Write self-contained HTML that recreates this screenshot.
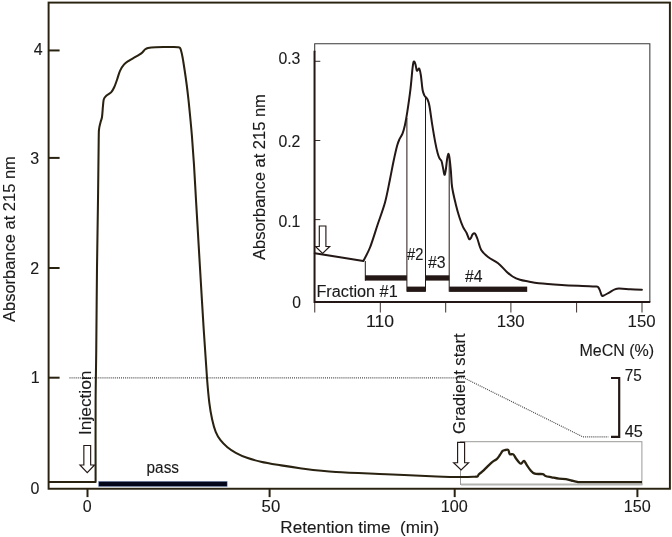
<!DOCTYPE html>
<html lang="en">
<head>
<meta charset="utf-8">
<title>Chromatogram</title>
<style>
html,body{margin:0;padding:0;background:#fff;}
body{width:672px;height:537px;overflow:hidden;}
svg{display:block;}
</style>
</head>
<body>
<svg width="672" height="537" viewBox="0 0 672 537" font-family='"Liberation Sans", sans-serif' fill="#1a1a1a">
<rect width="672" height="537" fill="#fff"/>
<rect x="460.5" y="441.7" width="181.4" height="42.8" fill="none" stroke="#9a9a98" stroke-width="1"/>
<line x1="461" y1="484.5" x2="642.4" y2="484.5" stroke="#b4b4b0" stroke-width="2.2"/>
<path d="M69.5,377.9 L464,377.9 L582.75,436.8 L608.3,436.8" fill="none" stroke="#484848" stroke-width="1.2" stroke-dasharray="1 1.06"/>
<rect x="48.6" y="2.6" width="621.3" height="486.15" fill="none" stroke="#2a2211" stroke-width="1.95"/>
<line x1="48.6" y1="50.45" x2="59.6" y2="50.45" stroke="#2a2211" stroke-width="2.0"/>
<line x1="48.6" y1="157.90" x2="59.6" y2="157.90" stroke="#2a2211" stroke-width="2.0"/>
<line x1="48.6" y1="268.00" x2="59.6" y2="268.00" stroke="#2a2211" stroke-width="2.0"/>
<line x1="48.6" y1="377.70" x2="59.6" y2="377.70" stroke="#2a2211" stroke-width="2.0"/>
<line x1="87.50" y1="488.75" x2="87.50" y2="497.1" stroke="#2a2211" stroke-width="2.0"/>
<line x1="269.60" y1="488.75" x2="269.60" y2="497.1" stroke="#2a2211" stroke-width="2.0"/>
<line x1="454.70" y1="488.75" x2="454.70" y2="497.1" stroke="#2a2211" stroke-width="2.0"/>
<line x1="637.40" y1="488.75" x2="637.40" y2="497.1" stroke="#2a2211" stroke-width="2.0"/>
<path d="M48.60,481.95 L95.60,481.95" fill="none" stroke="#2a2211" stroke-width="2.05" stroke-linejoin="round"/>
<path d="M95.60,481.95 C95.60,468.62 95.49,423.99 95.60,402.00 C95.71,380.01 96.02,372.33 96.25,350.00 C96.48,327.67 96.71,293.00 97.00,268.00 C97.29,243.00 97.72,221.33 98.00,200.00 C98.28,178.67 98.52,151.83 98.70,140.00 C98.88,128.17 98.78,132.00 99.10,129.00 C99.42,126.00 100.12,124.00 100.60,122.00 C101.08,120.00 101.60,119.72 102.00,117.00 C102.40,114.28 102.68,108.70 103.00,105.70 C103.32,102.70 103.32,100.68 103.90,99.00 C104.48,97.32 105.27,96.75 106.50,95.60 C107.73,94.45 110.02,93.48 111.30,92.10 C112.58,90.72 113.23,89.40 114.20,87.30 C115.17,85.20 116.13,82.25 117.10,79.50 C118.07,76.75 118.87,73.28 120.00,70.80 C121.13,68.32 122.45,66.27 123.90,64.60 C125.35,62.93 126.77,62.08 128.70,60.80 C130.63,59.52 133.40,58.13 135.50,56.90 C137.60,55.67 139.68,54.67 141.30,53.40 C142.92,52.13 144.07,50.20 145.20,49.30 C146.33,48.40 146.33,48.35 148.10,48.00 C149.87,47.65 152.98,47.37 155.80,47.20 C158.62,47.03 161.97,47.03 165.00,47.00 C168.03,46.97 171.83,46.97 174.00,47.00 C176.17,47.03 177.03,47.07 178.00,47.20 C178.97,47.33 179.32,47.33 179.80,47.80 C180.28,48.27 180.43,48.38 180.90,50.00 C181.37,51.62 181.98,54.17 182.60,57.50 C183.22,60.83 183.93,65.58 184.60,70.00 C185.27,74.42 185.95,79.00 186.60,84.00 C187.25,89.00 187.90,94.50 188.50,100.00 C189.10,105.50 189.62,110.83 190.20,117.00 C190.78,123.17 191.37,129.00 192.00,137.00 C192.63,145.00 193.33,154.50 194.00,165.00 C194.67,175.50 195.33,188.50 196.00,200.00 C196.67,211.50 197.33,222.67 198.00,234.00 C198.67,245.33 199.04,252.00 200.00,268.00 C200.96,284.00 202.58,311.67 203.75,330.00 C204.92,348.33 206.07,365.90 207.00,378.00 C207.93,390.10 208.45,395.72 209.30,402.60 C210.15,409.48 211.03,414.42 212.10,419.30 C213.17,424.18 214.30,428.42 215.70,431.90 C217.10,435.38 218.55,437.65 220.50,440.20 C222.45,442.75 224.85,445.10 227.40,447.20 C229.95,449.30 232.53,451.03 235.80,452.80 C239.07,454.57 242.82,456.32 247.00,457.80 C251.18,459.28 255.78,460.53 260.90,461.70 C266.02,462.87 271.18,463.72 277.70,464.80 C284.22,465.88 290.28,467.00 300.00,468.20 C309.72,469.40 321.62,471.00 336.00,472.00 C350.38,473.00 369.53,473.47 386.30,474.20 C403.07,474.93 424.02,475.93 436.60,476.40 C449.18,476.87 455.30,476.95 461.80,477.00 C468.30,477.05 473.30,476.75 475.60,476.70" fill="none" stroke="#2a2211" stroke-width="2.05" stroke-linejoin="round" stroke-linecap="round"/>
<path d="M475.60,476.70 C475.93,476.65 477.05,476.80 477.60,476.40 C478.15,476.00 478.30,474.95 478.90,474.30 C479.50,473.65 480.37,473.20 481.20,472.50 C482.03,471.80 482.57,471.38 483.90,470.10 C485.23,468.82 487.72,466.22 489.20,464.80 C490.68,463.38 491.55,462.55 492.80,461.60 C494.05,460.65 495.52,460.20 496.70,459.10 C497.88,458.00 498.92,456.37 499.90,455.00 C500.88,453.63 501.70,451.73 502.60,450.90 C503.50,450.07 504.35,450.15 505.30,450.00 C506.25,449.85 507.56,449.32 508.30,450.00 C509.04,450.68 508.92,453.37 509.75,454.10 C510.58,454.83 512.26,453.67 513.30,454.40 C514.34,455.13 514.95,457.07 516.00,458.50 C517.05,459.93 518.70,462.17 519.60,463.00 C520.50,463.83 520.67,463.85 521.40,463.50 C522.13,463.15 523.12,460.68 524.00,460.90 C524.88,461.12 525.65,463.27 526.70,464.80 C527.75,466.33 528.96,468.62 530.30,470.10 C531.64,471.58 532.67,473.03 534.75,473.70 C536.83,474.37 541.01,473.72 542.80,474.10 C544.59,474.48 544.02,475.47 545.50,476.00 C546.98,476.53 549.47,476.85 551.70,477.30 C553.93,477.75 556.52,478.40 558.90,478.70 C561.28,479.00 563.63,478.73 566.00,479.10 C568.37,479.47 571.02,480.38 573.10,480.90 C575.18,481.42 577.60,481.98 578.50,482.20 L642,482.2" fill="none" stroke="#2a2211" stroke-width="2.3" stroke-linejoin="round" stroke-linecap="butt"/>
<rect x="98.6" y="481.4" width="128.6" height="5.1" fill="#04061a" stroke="#6f8fc8" stroke-opacity="0.55" stroke-width="0.7"/>
<path d="M83.85,445.50 L90.65,445.50 L90.65,465.00 L94.55,465.00 L87.25,472.70 L79.95,465.00 L83.85,465.00Z" fill="#fff" stroke="#231815" stroke-width="1.15" stroke-linejoin="miter"/>
<path d="M457.60,442.30 L464.60,442.30 L464.60,462.70 L468.60,462.70 L461.10,470.00 L453.60,462.70 L457.60,462.70Z" fill="#fff" stroke="#231815" stroke-width="1.15" stroke-linejoin="miter"/>
<path d="M314.7,52 L314.7,43.7 L649.85,43.7 L649.85,302" fill="none" stroke="#383838" stroke-width="1.05"/>
<path d="M314.55,50.7 L314.55,302 L650.3,302" fill="none" stroke="#231815" stroke-width="2.0"/>
<line x1="314.6" y1="61.30" x2="320.3" y2="61.30" stroke="#231815" stroke-width="0.9"/>
<line x1="314.6" y1="140.50" x2="320.3" y2="140.50" stroke="#231815" stroke-width="0.9"/>
<line x1="314.6" y1="219.60" x2="320.3" y2="219.60" stroke="#231815" stroke-width="0.9"/>
<line x1="314.75" y1="302" x2="314.75" y2="312.5" stroke="#231815" stroke-width="0.9"/>
<line x1="380.30" y1="302" x2="380.30" y2="312.5" stroke="#231815" stroke-width="0.9"/>
<line x1="445.70" y1="302" x2="445.70" y2="312.5" stroke="#231815" stroke-width="0.9"/>
<line x1="510.90" y1="302" x2="510.90" y2="312.5" stroke="#231815" stroke-width="0.9"/>
<line x1="576.60" y1="302" x2="576.60" y2="312.5" stroke="#231815" stroke-width="0.9"/>
<line x1="642.00" y1="302" x2="642.00" y2="312.5" stroke="#231815" stroke-width="0.9"/>
<line x1="365.3" y1="261" x2="365.3" y2="280.6" stroke="#231815" stroke-width="1"/>
<line x1="406.9" y1="118" x2="406.9" y2="291.7" stroke="#231815" stroke-width="1"/>
<line x1="425.5" y1="96.5" x2="425.5" y2="291.7" stroke="#231815" stroke-width="1"/>
<line x1="449.2" y1="156" x2="449.2" y2="291.7" stroke="#231815" stroke-width="1"/>
<rect x="365.00" y="275.30" width="41.90" height="5.3" fill="#231815"/>
<rect x="407.00" y="286.60" width="18.30" height="5.3" fill="#231815"/>
<rect x="425.50" y="275.30" width="23.80" height="5.3" fill="#231815"/>
<rect x="449.30" y="286.60" width="77.90" height="5.3" fill="#231815"/>
<path d="M314.75,253.25 L340.00,257.20 L363.30,261.00  C364.42,258.75 367.63,253.50 370.00,247.50 C372.37,241.50 375.00,232.50 377.50,225.00 C380.00,217.50 382.95,209.97 385.00,202.50 C387.05,195.03 388.38,187.03 389.80,180.20 C391.22,173.37 392.28,167.23 393.50,161.50 C394.72,155.77 396.10,149.52 397.10,145.80 C398.10,142.08 398.60,141.23 399.50,139.20 C400.40,137.17 401.60,135.93 402.50,133.60 C403.40,131.27 404.10,128.83 404.90,125.20 C405.70,121.57 406.37,117.87 407.30,111.80 C408.23,105.73 409.65,95.87 410.50,88.80 C411.35,81.73 411.92,73.77 412.40,69.40 C412.88,65.03 413.08,63.90 413.40,62.60 C413.72,61.30 413.95,61.28 414.30,61.60 C414.65,61.92 415.08,63.00 415.50,64.50 C415.92,66.00 416.35,69.78 416.80,70.60 C417.25,71.42 417.77,69.68 418.20,69.40 C418.63,69.12 418.95,67.88 419.40,68.90 C419.85,69.92 420.37,71.98 420.90,75.50 C421.43,79.02 422.00,86.65 422.60,90.00 C423.20,93.35 423.70,94.07 424.50,95.60 C425.30,97.13 426.58,97.50 427.40,99.20 C428.22,100.90 428.58,101.47 429.40,105.80 C430.22,110.13 431.33,119.15 432.30,125.20 C433.27,131.25 434.32,137.47 435.20,142.10 C436.08,146.73 436.88,150.28 437.60,153.00 C438.32,155.72 438.85,157.07 439.50,158.40 C440.15,159.73 440.88,159.27 441.50,161.00 C442.12,162.73 442.72,166.50 443.20,168.80 C443.68,171.10 444.00,174.40 444.40,174.80 C444.80,175.20 445.15,173.82 445.60,171.20 C446.05,168.58 446.65,162.00 447.10,159.10 C447.55,156.20 447.90,154.00 448.30,153.80 C448.70,153.60 449.07,155.00 449.50,157.90 C449.93,160.80 450.47,166.35 450.90,171.20 C451.33,176.05 451.30,181.55 452.10,187.00 C452.90,192.45 454.48,198.87 455.70,203.90 C456.92,208.93 458.18,213.37 459.40,217.20 C460.62,221.03 461.80,224.27 463.00,226.90 C464.20,229.53 465.58,230.98 466.60,233.00 C467.62,235.02 468.37,238.20 469.10,239.00 C469.83,239.80 470.40,238.60 471.00,237.80 C471.60,237.00 472.02,234.88 472.70,234.20 C473.38,233.52 474.30,232.90 475.10,233.70 C475.90,234.50 476.48,236.30 477.50,239.00 C478.52,241.70 479.38,246.87 481.20,249.90 C483.02,252.93 485.58,254.98 488.40,257.20 C491.22,259.42 495.07,260.78 498.10,263.20 C501.13,265.62 504.18,269.48 506.60,271.70 C509.02,273.92 510.37,275.15 512.60,276.50 C514.83,277.85 517.38,278.97 520.00,279.80 C522.62,280.63 525.17,280.92 528.30,281.50 C531.42,282.08 533.18,282.72 538.75,283.30 C544.32,283.88 554.41,284.55 561.70,285.00 C568.99,285.45 576.95,285.75 582.50,286.00 C588.05,286.25 592.40,286.32 595.00,286.50 C597.60,286.68 597.30,286.48 598.10,287.10 C598.90,287.72 599.20,288.82 599.80,290.20 C600.40,291.58 601.12,294.47 601.70,295.40 C602.28,296.33 601.98,296.32 603.30,295.80 C604.62,295.28 607.68,293.37 609.60,292.30 C611.52,291.23 613.23,290.03 614.80,289.40 C616.37,288.77 616.40,288.53 619.00,288.50 C621.60,288.47 626.58,288.98 630.40,289.20 C634.22,289.42 639.98,289.70 641.90,289.80" fill="none" stroke="#231815" stroke-width="2.0" stroke-linejoin="round" stroke-linecap="round"/>
<path d="M319.30,226.00 L325.90,226.00 L325.90,246.50 L329.70,246.50 L322.60,253.40 L315.50,246.50 L319.30,246.50Z" fill="#fff" stroke="#231815" stroke-width="1.15" stroke-linejoin="miter"/>
<path d="M611,378 L619.2,378 L619.2,436.9 L611,436.9" fill="none" stroke="#231815" stroke-width="2.2"/>
<g opacity="0.999" stroke="#1a1a1a" stroke-width="0.12" stroke-linejoin="round">
<text x="38.30" y="55.00" font-size="16.00" text-anchor="middle" textLength="8.90" lengthAdjust="spacingAndGlyphs">4</text>
<text x="34.80" y="163.90" font-size="16.00" text-anchor="middle" textLength="8.90" lengthAdjust="spacingAndGlyphs">3</text>
<text x="34.80" y="274.00" font-size="16.00" text-anchor="middle" textLength="8.90" lengthAdjust="spacingAndGlyphs">2</text>
<text x="35.20" y="382.80" font-size="16.00" text-anchor="middle" textLength="8.90" lengthAdjust="spacingAndGlyphs">1</text>
<text x="35.00" y="493.70" font-size="16.00" text-anchor="middle" textLength="8.90" lengthAdjust="spacingAndGlyphs">0</text>
<text x="87.20" y="511.60" font-size="16.00" text-anchor="middle" textLength="8.90" lengthAdjust="spacingAndGlyphs">0</text>
<text x="270.90" y="511.60" font-size="16.00" text-anchor="middle" textLength="18.60" lengthAdjust="spacingAndGlyphs">50</text>
<text x="454.30" y="511.60" font-size="16.00" text-anchor="middle" textLength="27.00" lengthAdjust="spacingAndGlyphs">100</text>
<text x="637.20" y="511.60" font-size="16.00" text-anchor="middle" textLength="27.00" lengthAdjust="spacingAndGlyphs">150</text>
<text x="280.30" y="532.90" font-size="16.00" text-anchor="start" textLength="158.80" lengthAdjust="spacingAndGlyphs" style="white-space:pre">Retention time  (min)</text>
<text x="0" y="0" font-size="16.00" text-anchor="start" transform="translate(15.00 322.00) rotate(-90)" textLength="165.80" lengthAdjust="spacingAndGlyphs">Absorbance at 215 nm</text>
<text x="0" y="0" font-size="16.00" text-anchor="start" transform="translate(91.00 435.00) rotate(-90)" textLength="64.40" lengthAdjust="spacingAndGlyphs">Injection</text>
<text x="0" y="0" font-size="16.00" text-anchor="start" transform="translate(465.00 434.00) rotate(-90)" textLength="100.70" lengthAdjust="spacingAndGlyphs">Gradient start</text>
<text x="146.60" y="472.50" font-size="16.00" text-anchor="start" textLength="32.40" lengthAdjust="spacingAndGlyphs">pass</text>
<text x="579.40" y="355.75" font-size="16.00" text-anchor="start" textLength="74.80" lengthAdjust="spacingAndGlyphs">MeCN (%)</text>
<text x="624.75" y="380.60" font-size="16.00" text-anchor="start" textLength="17.00" lengthAdjust="spacingAndGlyphs">75</text>
<text x="624.75" y="436.80" font-size="16.00" text-anchor="start" textLength="18.10" lengthAdjust="spacingAndGlyphs">45</text>
<text x="0" y="0" font-size="16.00" text-anchor="start" transform="translate(265.00 260.00) rotate(-90)" textLength="165.80" lengthAdjust="spacingAndGlyphs">Absorbance at 215 nm</text>
<text x="278.40" y="64.00" font-size="16.00" text-anchor="start" textLength="22.00" lengthAdjust="spacingAndGlyphs">0.3</text>
<text x="278.40" y="146.70" font-size="16.00" text-anchor="start" textLength="22.00" lengthAdjust="spacingAndGlyphs">0.2</text>
<text x="278.40" y="226.50" font-size="16.00" text-anchor="start" textLength="22.00" lengthAdjust="spacingAndGlyphs">0.1</text>
<text x="292.30" y="308.00" font-size="16.00" text-anchor="start" textLength="8.70" lengthAdjust="spacingAndGlyphs">0</text>
<text x="380.00" y="326.80" font-size="16.00" text-anchor="middle" textLength="28.00" lengthAdjust="spacingAndGlyphs">110</text>
<text x="510.70" y="326.80" font-size="16.00" text-anchor="middle" textLength="28.00" lengthAdjust="spacingAndGlyphs">130</text>
<text x="641.60" y="326.80" font-size="16.00" text-anchor="middle" textLength="28.00" lengthAdjust="spacingAndGlyphs">150</text>
<text x="316.40" y="296.60" font-size="16.00" text-anchor="start" textLength="81.30" lengthAdjust="spacingAndGlyphs">Fraction #1</text>
<text x="407.00" y="260.00" font-size="16.00" text-anchor="start" textLength="16.30" lengthAdjust="spacingAndGlyphs">#2</text>
<text x="428.00" y="267.50" font-size="16.00" text-anchor="start" textLength="17.60" lengthAdjust="spacingAndGlyphs">#3</text>
<text x="465.00" y="282.00" font-size="16.00" text-anchor="start" textLength="17.50" lengthAdjust="spacingAndGlyphs">#4</text>
</g>
</svg>
</body>
</html>
